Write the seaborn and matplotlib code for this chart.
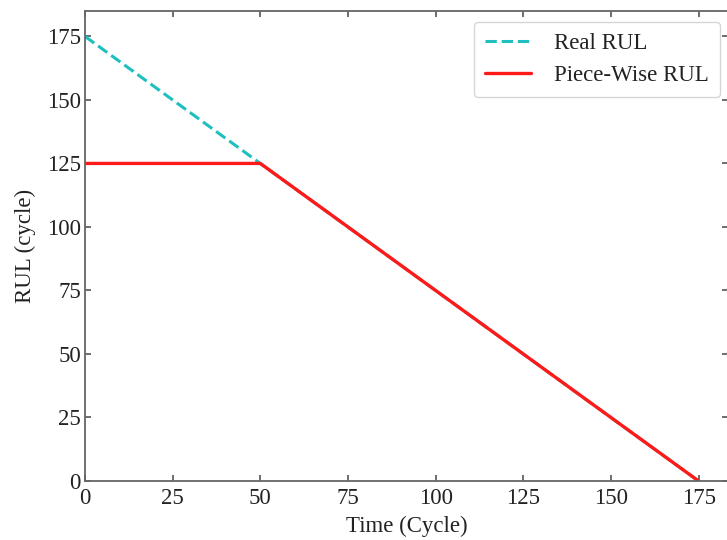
import matplotlib
matplotlib.use("Agg")
import matplotlib.pyplot as plt
import seaborn as sns

time_real = [0, 50, 175]
rul_real = [175, 125, 0]
time_piece = [0, 50, 175]
rul_piece = [125, 125, 0]
xticks = [0, 25, 50, 75, 100, 125, 150, 175]
yticks = [0, 25, 50, 75, 100, 125, 150, 175]

sns.set_style("ticks")
plt.rcParams['font.family'] = ['Liberation Serif', 'DejaVu Serif']

fig = plt.figure(figsize=(7.27, 5.40), dpi=100)
ax = fig.add_axes([85/727, 59/540, 643/727, 470/540])

sns.lineplot(x=time_real, y=rul_real, ax=ax, color='#1fbfbf', linestyle='--',
             linewidth=2.2, label='Real RUL')
sns.lineplot(x=time_piece, y=rul_piece, ax=ax, color='#ff1a1a', linestyle='-',
             linewidth=2.4, label='Piece-Wise RUL')

ax.set_xlim(0, 183.4)
ax.set_ylim(0, 185)
ax.set_xticks(xticks)
ax.set_yticks(yticks)
ax.tick_params(direction='in', top=True, right=True, length=4.5, width=1.2,
               color='#555555', labelsize=16.5, labelcolor='#222222')
ax.tick_params(axis='x', pad=5)
ax.tick_params(axis='y', pad=3)
for s in ax.spines.values():
    s.set_color('#666666')
    s.set_linewidth(1.3)
ax.set_xlabel('Time (Cycle)', fontsize=16.5, color='#222222', labelpad=5)
ax.set_ylabel('RUL (cycle)', fontsize=16.5, color='#222222', labelpad=8)

leg = ax.legend(loc='upper right', fontsize=16.5, frameon=True, fancybox=True,
                handlelength=2.0, borderpad=0.5, labelspacing=0.45, handletextpad=1.0,
                borderaxespad=0, bbox_to_anchor=(0.988, 0.977))
leg.get_frame().set_edgecolor('#cccccc')
for t in leg.get_texts():
    t.set_color('#222222')

fig.savefig('out.png', dpi=100)
